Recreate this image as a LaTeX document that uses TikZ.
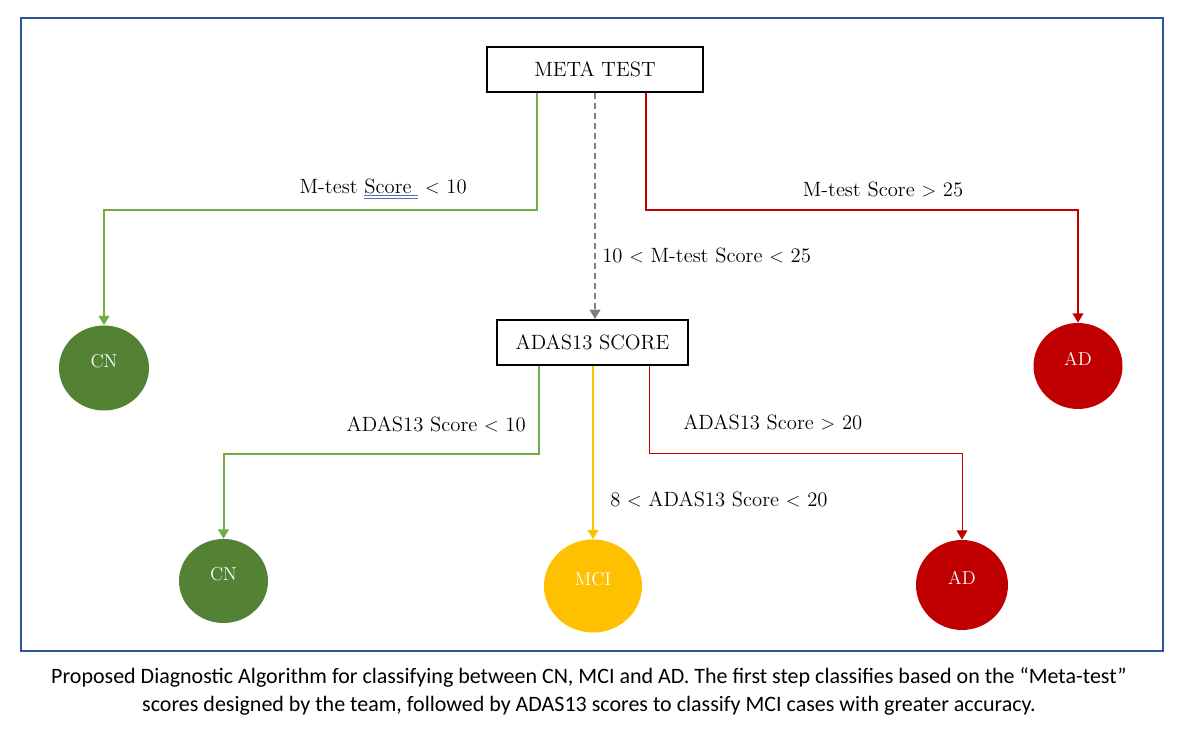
\documentclass[tikz,border=0pt]{standalone}
\usepackage{fontspec}
\usetikzlibrary{arrows.meta,shapes.geometric}
\setmainfont{lmroman12-regular}[Extension=.otf]
\newfontfamily\capfont{Carlito}
\definecolor{framblue}{RGB}{47,85,151}
\definecolor{lgreen}{RGB}{112,173,71}
\definecolor{dgreen}{RGB}{84,130,53}
\definecolor{dred}{RGB}{192,0,0}
\definecolor{amber}{RGB}{255,192,0}
\definecolor{midgray}{RGB}{127,127,127}
\definecolor{spellblue}{RGB}{68,114,196}
\newsavebox\spellbox
\newcommand{\spellmark}[1]{\sbox\spellbox{#1}\rlap{\color{spellblue}\rule[-2pt]{\wd\spellbox}{0.9pt}}\rlap{\color{spellblue}\rule[-4pt]{\wd\spellbox}{0.9pt}}\usebox\spellbox}

\begin{document}
\begin{tikzpicture}[x=0.75pt,y=0.75pt,yscale=-1,xscale=1,
  testbox/.style={draw=black,line width=1.5pt,minimum height=33.75pt,inner sep=0pt,font=\fontsize{15.5}{18}\selectfont},
  verdict/.style={ellipse,inner sep=0pt,text=white,text depth=10pt,font=\fontsize{14}{17}\selectfont},
  cond/.style={inner sep=0.75pt,font=\fontsize{15.5}{18}\selectfont},
  tip/.style={-{Triangle[width=8pt,length=7pt]}},
  branch/.style={tip,line width=1.5pt}]
\useasboundingbox (0,0) rectangle (1179,730);

%Shape: Rectangle [frame]
\draw [color=framblue,line width=1.5pt] (21,18) rectangle (1163,651);

%Shape: Rectangle [test boxes]
\node [testbox,minimum width=162pt] (meta) at (595,69.5) {META TEST};
\node [testbox,minimum width=143.25pt] (adas) at (592.5,342.5) {ADAS13 SCORE};

%Shape: Circle [outcomes]
\node [verdict,fill=dgreen,minimum width=67.5pt,minimum height=63.75pt] (cnA) at (104,368) {CN};
\node [verdict,fill=dred,minimum width=66.75pt,minimum height=64.5pt] (adA) at (1078,366) {AD};
\node [verdict,fill=dgreen,minimum width=66.75pt,minimum height=63pt] (cnB) at (223.5,581) {CN};
\node [verdict,fill=amber,minimum width=73.5pt,minimum height=69.75pt] (mci) at (593,586) {MCI};
\node [verdict,fill=dred,minimum width=69pt,minimum height=67.5pt] (adB) at (962,585) {AD};

%Straight Lines [first step]
\draw [branch,color=lgreen] ([xshift=-43.5pt]meta.south) -- ++(0,117) -| (cnA.north);
\draw [branch,color=dred] ([xshift=38.25pt]meta.south) -- ++(0,117) -| (adA.north);
\draw [tip,color=midgray,line width=1.5pt,dash pattern={on 4.5pt off 3pt}] (meta.south) -- (meta.south |- adas.north);

%Straight Lines [second step]
\draw [branch,color=lgreen] ([xshift=-40.5pt]adas.south) -- ++(0,88) -| (cnB.north);
\draw [branch,color=amber] (mci.north |- adas.south) -- (mci.north);
\draw [tip,color=dred,line width=0.75pt] ([xshift=42.75pt]adas.south) -- ++(0,88) -| (adB.north);

% Text Node
\node [cond,anchor=east] (lowM) at (468,189) {M-test \spellmark{Score\ }\ $<$ 10};
% Text Node
\node [cond] (highM) at (883,189) {M-test Score $>$ 25};
% Text Node
\node [cond,anchor=west] (midM) at (601,255) {10 $<$ M-test Score $<$ 25};
% Text Node
\node [cond,anchor=east] (lowA) at (527,424) {ADAS13 Score $<$ 10};
% Text Node
\node [cond,anchor=west] (highA) at (682,422) {ADAS13 Score $>$ 20};
% Text Node
\node [cond,anchor=west] (midA) at (609,499) {8 $<$ ADAS13 Score $<$ 20};

% Text Node [caption]
\node [align=center,font=\capfont\fontsize{16.5}{20.5}\selectfont] (caption) at (589,691.5) {Proposed Diagnostic Algorithm for classifying between CN, MCI and AD. The first step classifies based on the “Meta-test”\\ scores designed by the team, followed by ADAS13 scores to classify MCI cases with greater accuracy.};

\end{tikzpicture}
\end{document}
